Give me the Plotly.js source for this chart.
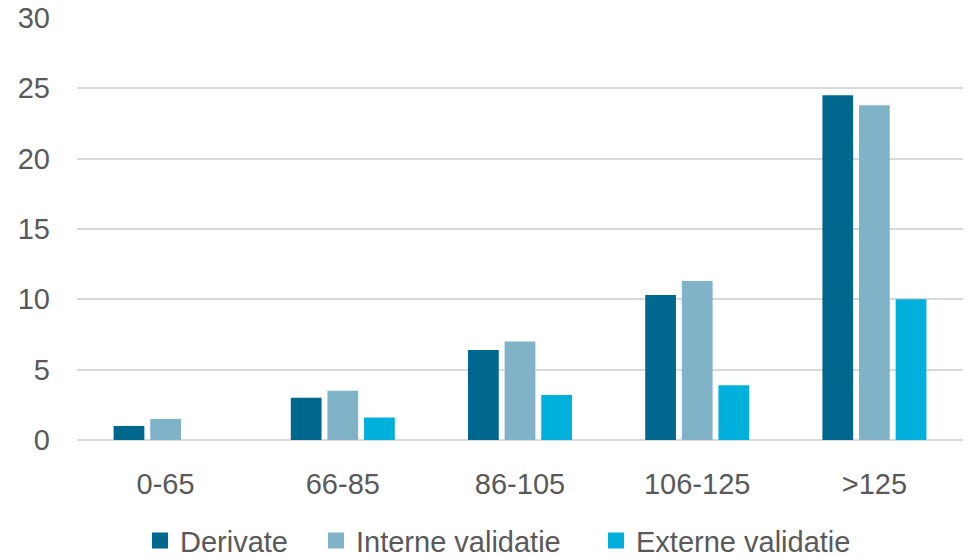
<!DOCTYPE html>
<html>
<head>
<meta charset="utf-8">
<script src="https://cdn.plot.ly/plotly-3.0.1.min.js"></script>
<style>html,body{margin:0;padding:0;background:#fff;}#chart{width:965px;height:557px;}</style>
</head>
<body>
<div id="chart"></div>
<script>
const categories = ["0-65", "66-85", "86-105", "106-125", ">125"];
const derivate = [1.0, 3.0, 6.4, 10.3, 24.5];
const interneValidatie = [1.5, 3.5, 7.0, 11.3, 23.8];
const externeValidatie = [0, 1.6, 3.2, 3.9, 10.0];
const seriesNames = ["Derivate", "Interne validatie", "Externe validatie"];
const yTicks = [0, 5, 10, 15, 20, 25, 30];

const colors = ["#00688F", "#80B3C8", "#00B0DC"];
const seriesValues = [derivate, interneValidatie, externeValidatie];
const legendIds = ["legend", "legend2", "legend3"];
const legendX = [140, 316, 596];

const bars = seriesValues.map((vals, i) => ({
  type: "bar",
  name: seriesNames[i],
  x: categories,
  y: vals,
  marker: {color: colors[i]},
  showlegend: false
}));

// legend-only proxies with larger square symbols
const proxies = seriesNames.map((n, i) => ({
  type: "scatter",
  mode: "markers",
  name: n,
  x: [null],
  y: [null],
  marker: {symbol: "square", size: 16, color: colors[i]},
  legend: legendIds[i],
  showlegend: true
}));

const font = {family: "Liberation Sans, Arial, sans-serif", size: 29, color: "#595959"};

function legendCfg(i) {
  return {
    orientation: "h",
    xref: "container",
    yref: "container",
    x: legendX[i] / 965,
    xanchor: "left",
    y: 0.075,
    yanchor: "top",
    font: font,
    bgcolor: "rgba(0,0,0,0)",
    borderwidth: 0
  };
}

const layout = {
  width: 965,
  height: 557,
  margin: {l: 77, r: 2, t: 18, b: 117},
  paper_bgcolor: "#ffffff",
  plot_bgcolor: "#ffffff",
  font: font,
  barmode: "group",
  bargap: 0.38,
  bargroupgap: 0.16,
  showlegend: true,
  legend: legendCfg(0),
  legend2: legendCfg(1),
  legend3: legendCfg(2),
  xaxis: {
    type: "category",
    showgrid: false,
    showline: false,
    zeroline: false,
    ticks: "",
    ticklabelstandoff: 24,
    tickfont: font
  },
  yaxis: {
    range: [0, 30],
    tickvals: yTicks,
    ticktext: yTicks.map(String),
    showgrid: true,
    gridcolor: "#D9D9D9",
    gridwidth: 2,
    zeroline: true,
    zerolinecolor: "#D9D9D9",
    zerolinewidth: 2,
    showline: false,
    ticks: "",
    ticklabelstandoff: 26,
    tickfont: font,
    fixedrange: true
  }
};

Plotly.newPlot("chart", bars.concat(proxies), layout, {displayModeBar: false, staticPlot: true});
</script>
</body>
</html>
